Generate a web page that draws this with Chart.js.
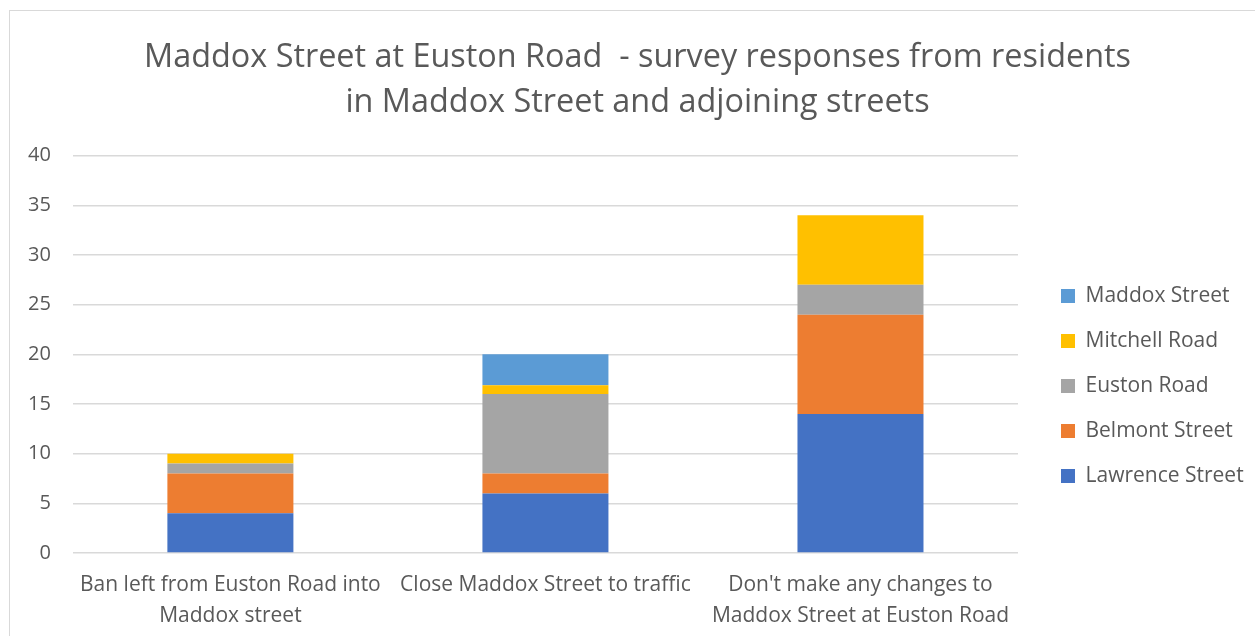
<!DOCTYPE html>
<html>
<head>
<meta charset="utf-8">
<script src="https://cdn.jsdelivr.net/npm/chart.js@4"></script>
<style>
  html, body { margin: 0; padding: 0; background: #fff; overflow: hidden; }
  #frame { position: absolute; left: 9px; top: 10px; width: 1400px; height: 800px; border: 1px solid #d9d9d9; }
  #wrap { position: absolute; left: 0; top: 0; width: 1255px; height: 636px; }
</style>
</head>
<body>
<div id="frame"></div>
<div id="wrap"><canvas id="chart"></canvas></div>
<script>
// ==========================
// DATA
// ==========================
const categories = [
  ["Ban left from Euston Road into", "Maddox street"],
  "Close Maddox Street to traffic",
  ["Don't make any changes to", "Maddox Street at Euston Road"]
];
const lawrenceStreet = [4, 6, 14];
const belmontStreet = [4, 2, 10];
const eustonRoad = [1, 8, 3];
const mitchellRoad = [1, 0.9, 7];
const maddoxStreet = [0, 3.1, 0];
const yTicks = [0, 5, 10, 15, 20, 25, 30, 35, 40];

const FONT = "'Open Sans', sans-serif";
const GREY = "#595959";

// legend sits further from the plot (and lower) than chart.js puts it
const LEGEND_WIDTH = 237;
const LEGEND_SHIFT = 19;
const LEGEND_DROP = 68;
const TITLE_SHIFT = 7;
const X_AXIS_HEIGHT = 83;

const nudgeBoxes = {
  id: "nudgeBoxes",
  beforeInit(chart) {
    const fit = chart.legend.fit;
    chart.legend.fit = function () {
      fit.call(this);
      this.width = LEGEND_WIDTH;
    };
  },
  afterLayout(chart) {
    chart.legend.left += LEGEND_SHIFT;
    chart.legend.right += LEGEND_SHIFT;
    chart.legend.top += LEGEND_DROP;
    chart.legend.bottom += LEGEND_DROP;
    chart.titleBlock.left += TITLE_SHIFT;
    chart.titleBlock.right += TITLE_SHIFT;
  }
};

function series(label, data, color) {
  return {
    label: label,
    data: data,
    backgroundColor: color,
    borderWidth: 0,
    barPercentage: 0.4,
    categoryPercentage: 1
  };
}

new Chart(document.getElementById("chart"), {
  type: "bar",
  data: {
    labels: categories,
    datasets: [
      series("Lawrence Street", lawrenceStreet, "#4472C4"),
      series("Belmont Street", belmontStreet, "#ED7D31"),
      series("Euston Road", eustonRoad, "#A5A5A5"),
      series("Mitchell Road", mitchellRoad, "#FFC000"),
      series("Maddox Street", maddoxStreet, "#5B9BD5")
    ]
  },
  plugins: [nudgeBoxes],
  options: {
    responsive: true,
    maintainAspectRatio: false,
    animation: false,
    layout: { padding: { left: 6, right: 0, top: 0, bottom: 0 } },
    plugins: {
      title: {
        display: true,
        text: ["Maddox Street at Euston Road  - survey responses from residents", "in Maddox Street and adjoining streets"],
        color: GREY,
        font: { family: FONT, size: 32.4, weight: "normal", lineHeight: 1.4 },
        padding: { top: 35, bottom: 30 }
      },
      legend: {
        position: "right",
        reverse: true,
        labels: {
          color: GREY,
          font: { family: FONT, size: 21 },
          boxWidth: 14,
          boxHeight: 14,
          padding: 24
        }
      },
      tooltip: { enabled: false }
    },
    scales: {
      x: {
        stacked: true,
        afterFit: scale => { scale.height = X_AXIS_HEIGHT; },
        grid: { display: false },
        border: { display: false },
        ticks: { color: GREY, font: { family: FONT, size: 21, lineHeight: 1.45 }, padding: 9, maxRotation: 0 }
      },
      y: {
        stacked: true,
        min: 0,
        max: 40,
        afterBuildTicks: axis => { axis.ticks = yTicks.map(v => ({ value: v })); },
        grid: { color: "#d9d9d9", lineWidth: 1.5, drawTicks: false },
        border: { display: false },
        ticks: { color: GREY, font: { family: FONT, size: 20 }, padding: 22 }
      }
    }
  }
});
</script>
</body>
</html>
